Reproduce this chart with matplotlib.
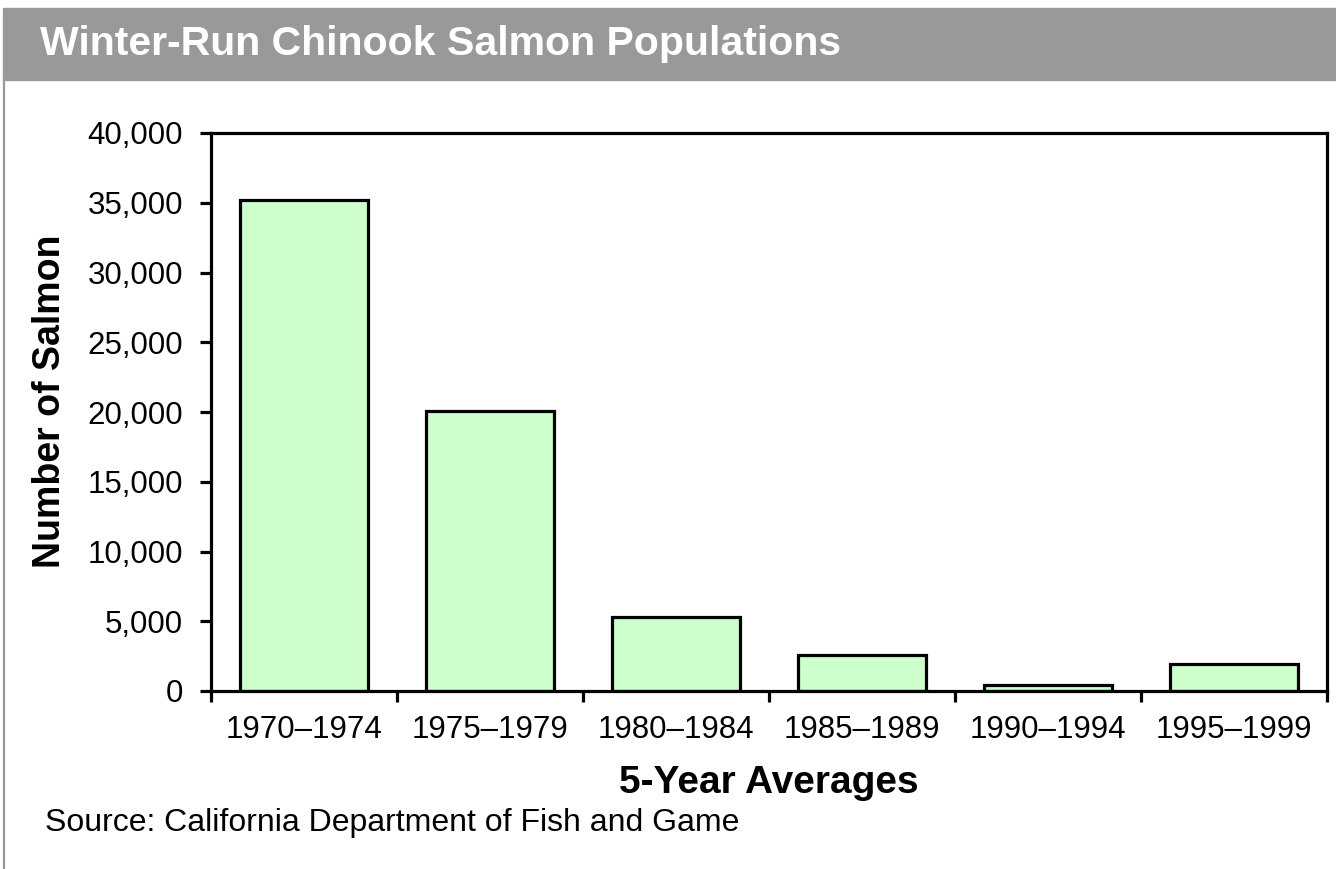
import matplotlib.pyplot as plt
from matplotlib.patches import Rectangle
from matplotlib.lines import Line2D
from matplotlib.ticker import FuncFormatter

periods = ["1970\u20131974", "1975\u20131979", "1980\u20131984",
           "1985\u20131989", "1990\u20131994", "1995\u20131999"]
salmon = [35200, 20100, 5300, 2600, 400, 1900]

plt.rcParams['font.family'] = ['Liberation Sans', 'DejaVu Sans']

fig = plt.figure(figsize=(13.36, 8.69), dpi=100)

# grey header band and left border
fig.patches.append(Rectangle((3 / 1336, 1 - 80 / 869), 1, 72 / 869,
                             transform=fig.transFigure, color="#999999", zorder=0))
fig.lines.append(Line2D([3.5 / 1336, 3.5 / 1336], [0, 1 - 80 / 869],
                        transform=fig.transFigure, color="#999999", lw=1.6))
fig.text(40 / 1336, 1 - 44 / 869, "Winter-Run Chinook Salmon Populations",
         color="white", fontsize=29.5, fontweight="bold", va="center", ha="left")

ax = fig.add_axes([211 / 1336, 1 - 691 / 869, 1116 / 1336, 558 / 869])
x = list(range(len(periods)))
ax.bar(x, salmon, width=0.69, color="#CCFFCC", edgecolor="black", linewidth=2.3)

ax.set_xlim(-0.5, len(periods) - 0.5)
ax.set_ylim(0, 40000)
ax.set_yticks(range(0, 40001, 5000))
ax.yaxis.set_major_formatter(FuncFormatter(lambda v, p: f"{int(v):,}"))
ax.set_xticks(x)
ax.set_xticklabels(periods)
ax.set_xticks([i - 0.5 for i in range(len(periods) + 1)], minor=True)

for s in ax.spines.values():
    s.set_linewidth(2.3)
ax.tick_params(axis="x", which="major", length=0, pad=17, labelsize=22.5)
ax.tick_params(axis="x", which="minor", length=8, width=2.3, direction="out")
ax.tick_params(axis="y", length=8, width=2.3, direction="out", pad=12, labelsize=22.5)

ax.set_ylabel("Number of Salmon", fontsize=27, fontweight="bold")
ax.yaxis.set_label_coords(-143 / 1116, 0.52)
ax.set_xlabel("5-Year Averages", fontsize=28, fontweight="bold", labelpad=15)

fig.text(45 / 1336, 1 - 823 / 869, "Source: California Department of Fish and Game",
         fontsize=23, va="center", ha="left")

fig.savefig("out.png", dpi=100)
